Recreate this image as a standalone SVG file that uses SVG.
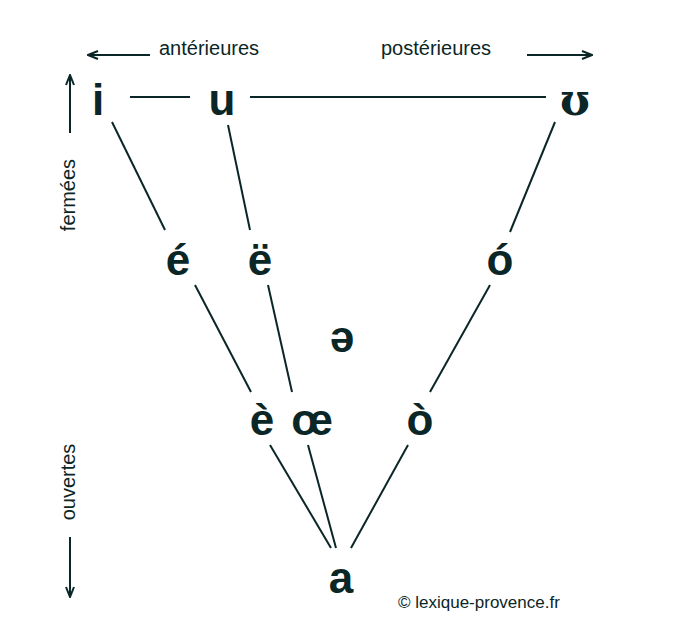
<svg xmlns="http://www.w3.org/2000/svg" width="673" height="636" viewBox="0 0 673 636">
<style>
.v{font-family:"Liberation Sans",Arial,sans-serif;font-weight:bold;font-size:44px;fill:#0b2626;text-anchor:middle}
.l{font-family:"Liberation Sans",Arial,sans-serif;font-size:20px;fill:#0b2626}
line{stroke:#0b2626;stroke-width:2}
</style>
<defs><marker id="ar" markerWidth="12" markerHeight="10" refX="11" refY="5" orient="auto" markerUnits="userSpaceOnUse"><path d="M1,1 L11,5 L1,9" fill="none" stroke="#0b2626" stroke-width="2"/></marker></defs>
<rect width="673" height="636" fill="#fff"/>
<g id="axes">
<line x1="150" y1="55" x2="88" y2="55" marker-end="url(#ar)"/>
<line x1="527" y1="55" x2="592" y2="55" marker-end="url(#ar)"/>
<line x1="70" y1="133" x2="70" y2="75" marker-end="url(#ar)"/>
<line x1="70" y1="537" x2="70" y2="597" marker-end="url(#ar)"/>
<text class="l" x="159" y="55">antérieures</text>
<text class="l" x="381" y="55">postérieures</text>
<text class="l" transform="translate(75,195) rotate(-90)" text-anchor="middle">fermées</text>
<text class="l" transform="translate(75,482) rotate(-90)" text-anchor="middle">ouvertes</text>
</g>
<g id="connectors">
<line x1="130" y1="97" x2="190" y2="97"/>
<line x1="250" y1="97" x2="546" y2="97"/>
<line x1="112" y1="122" x2="165" y2="230"/>
<line x1="228" y1="125" x2="250" y2="230"/>
<line x1="555" y1="122" x2="510" y2="232"/>
<line x1="195" y1="285" x2="251" y2="392"/>
<line x1="268" y1="285" x2="292" y2="392"/>
<line x1="490" y1="285" x2="430" y2="392"/>
<line x1="270" y1="445" x2="331" y2="548"/>
<line x1="308" y1="445" x2="336" y2="548"/>
<line x1="408" y1="445" x2="351" y2="548"/>
</g>
<g id="n-i"><text class="v" x="98" y="115">i</text></g>
<g id="n-u"><text class="v" x="222" y="115">u</text></g>
<g id="n-ʊ"><text class="v" x="575" y="115" style="font-family:'DejaVu Serif',serif">ʊ</text></g>
<g id="n-e1"><text class="v" x="178" y="275">é</text></g>
<g id="n-e2"><text class="v" x="260" y="275">ë</text></g>
<g id="n-o1"><text class="v" x="500" y="275">ó</text></g>
<g id="n-schwa"><text class="v" x="342" y="352">ə</text></g>
<g id="n-e3"><text class="v" x="262" y="435">è</text></g>
<g id="n-oe"><text class="v" x="312" y="435">œ</text></g>
<g id="n-o2"><text class="v" x="420" y="435">ò</text></g>
<g id="n-a"><text class="v" x="341" y="593">a</text></g>
<text class="l" x="398" y="608" style="font-size:17px">© lexique-provence.fr</text>
</svg>
